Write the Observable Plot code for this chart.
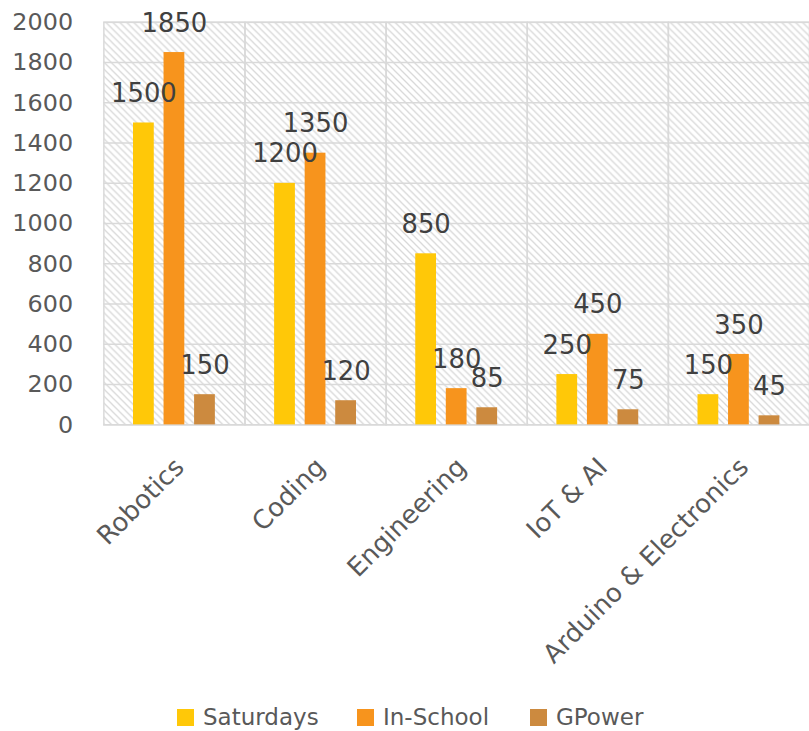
<!DOCTYPE html>
<html>
<head>
<meta charset="utf-8">
<script src="https://cdn.jsdelivr.net/npm/d3@7"></script>
<script src="https://cdn.jsdelivr.net/npm/@observablehq/plot@0.6"></script>
<style>
  body { margin: 0; background: #fff; font-family: "DejaVu Sans", sans-serif; }
  #wrap { width: 809px; height: 695px; overflow: hidden; position: relative; }
  #legend { position: relative; height: 36px; width: 809px; }
  .item { position: absolute; top: 9px; display: flex; align-items: center; font-size: 23px; color: #595959; }
  .sw { width: 17px; height: 17px; margin-right: 9px; }
</style>
</head>
<body>
<div id="wrap"></div>
<div id="legend"></div>
<script>
const categories = ["Robotics", "Coding", "Engineering", "IoT & AI", "Arduino & Electronics"];
const series = ["Saturdays", "In-School", "GPower"];
const saturdays = [1500, 1200, 850, 250, 150];
const inSchool = [1850, 1350, 180, 450, 350];
const gpower = [150, 120, 85, 75, 45];
const colors = ["#FFC808", "#F7941D", "#CC8A3F"];
const yTicks = [0, 200, 400, 600, 800, 1000, 1200, 1400, 1600, 1800, 2000];

const seriesValues = [saturdays, inSchool, gpower];
const data = [];
categories.forEach((c, i) => {
  series.forEach((s, j) => data.push({cat: c, series: s, value: seriesValues[j][i]}));
});

const chart = Plot.plot({
  width: 814,
  height: 695,
  marginLeft: 104,
  marginRight: 0,
  marginTop: 22,
  marginBottom: 268,
  style: {fontFamily: "DejaVu Sans, sans-serif", fontSize: "24px", color: "#595959", background: "white", overflow: "visible"},
  fx: {domain: categories, padding: 0, axis: null, round: false},
  x: {domain: series, paddingInner: 0.32, paddingOuter: 0.97, axis: null, round: false},
  y: {domain: [0, 2000], ticks: yTicks, tickSize: 0, tickPadding: 31, label: null, tickFormat: d => String(d)},
  color: {domain: series, range: colors},
  marks: [
    Plot.frame({fill: "url(#hatch)"}),
    Plot.ruleY(yTicks, {stroke: "#d9d9d9", strokeWidth: 1.5}),
    Plot.frame({stroke: "#d9d9d9", strokeWidth: 1.5}),
    Plot.barY(data, {fx: "cat", x: "series", y: "value", fill: "series"}),
    Plot.text(data, {fx: "cat", x: "series", y: "value", text: d => String(d.value), dy: -21, lineAnchor: "bottom", fontSize: 26, fill: "#404040"}),
    Plot.text(categories, {fx: d => d, text: d => d, frameAnchor: "bottom", dy: 31, dx: -2, rotate: -45, textAnchor: "end", lineAnchor: "top", fontSize: 26, fill: "#595959"})
  ]
});

d3.select(chart).insert("defs", ":first-child").html(
  `<pattern id="hatch" patternUnits="userSpaceOnUse" width="7" height="7">
     <rect width="7" height="7" fill="white"/>
     <path d="M-1,-1 L8,8 M-1,6 L1,8 M6,-1 L8,1" stroke="#d8d8d8" stroke-width="1.3"/>
   </pattern>`
);
document.getElementById("wrap").appendChild(chart);

const legend = document.getElementById("legend");
const lefts = [177, 357, 530];
series.forEach((s, i) => {
  const item = document.createElement("div");
  item.className = "item";
  item.style.left = lefts[i] + "px";
  item.innerHTML = `<div class="sw" style="background:${colors[i]}"></div><span>${s}</span>`;
  legend.appendChild(item);
});
</script>
</body>
</html>
